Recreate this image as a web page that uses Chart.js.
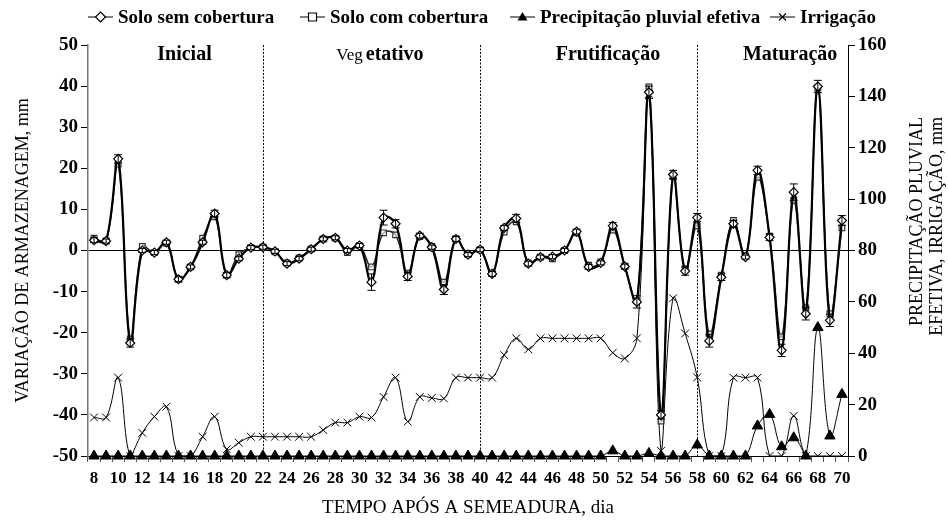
<!DOCTYPE html>
<html lang="pt">
<head>
<meta charset="UTF-8">
<title>Variação de armazenagem</title>
<script src="https://cdn.jsdelivr.net/npm/chart.js"></script>
<style>
  body { margin: 0; background: #fff; }
  #wrap { width: 948px; height: 527px; }
</style>
</head>
<body>
<div id="wrap"><canvas id="chart" width="948" height="527"></canvas></div>
<script>
// dias após a semeadura
var dias = [8, 9, 10, 11, 12, 13, 14, 15, 16, 17, 18, 19, 20, 21, 22, 23, 24, 25, 26, 27, 28,
  29, 30, 31, 32, 33, 34, 35, 36, 37, 38, 39, 40, 41, 42, 43, 44, 45, 46, 47, 48, 49, 50,
  51, 52, 53, 54, 55, 56, 57, 58, 59, 60, 61, 62, 63, 64, 65, 66, 67, 68, 69, 70];

// variação de armazenagem (mm) - eixo esquerdo
var semCobertura = [2.5, 2.3, 22.3, -22.5, 0, -0.5, 2, -7, -4, 2, 9, -6, -2, 0.7, 0.8,
  -0.2, -3.2, -2, 0.3, 2.8, 3.1, 0, 1.2, -7.7, 8, 6.5, -6.3, 3.6, 0.8, -9.5, 2.8, -1, 0.2,
  -5.7, 5.5, 7.8, -3.2, -1.6, -1.5, 0, 4.6, -4, -3, 6, -3.9, -12.5, 38.5, -40, 18.5, -5, 8,
  -22, -6.5, 6.5, -1.6, 19.5, 3.2, -24.3, 14.2, -15.4, 39.9, -17, 7.3];
var erroSem = [0.6, 0.5, 1, 1, 0.5, 0.5, 0.5, 0.6, 0.5, 0.5, 0.8, 0.6, 0.5, 0.5, 0.5,
  0.5, 0.5, 0.5, 0.5, 0.5, 0.5, 0.5, 0.5, 2, 1.8, 1, 1, 0.6, 0.5, 1.2, 0.6, 0.5, 0.5,
  0.6, 0.6, 1, 0.6, 0.5, 0.5, 0.5, 0.6, 0.6, 0.5, 0.8, 0.6, 1.5, 1.5, 1, 1, 1, 1,
  1.5, 0.8, 0.8, 0.5, 1, 0.8, 1.5, 2, 1.5, 1.5, 1.5, 1.2];
var comCobertura = [3, 2.3, 21, -21.5, 1, -0.5, 1.8, -7, -4, 3, 8.2, -6, -1, 0.7, 0.8,
  -0.3, -3, -1.8, 0.4, 2.8, 3, -0.5, 1.2, -4, 4.3, 3.8, -5.5, 3.4, 1, -7.7, 2.9, -1, 0.2,
  -5.5, 4.5, 7, -3, -1.6, -2, 0, 4.3, -3.6, -2.8, 5, -3.8, -12.2, 39.8, -41.5, 18, -4.5, 6,
  -20.3, -6, 7.3, -1.3, 17.8, 3.5, -21, 12.2, -14, 39.5, -15.4, 5.5];

// lâminas (mm) - eixo direito
var precipitacao = [0, 0, 0, 0, 0, 0, 0, 0, 0, 0, 0, 0, 0, 0, 0, 0, 0, 0, 0, 0, 0,
  0, 0, 0, 0, 0, 0, 0, 0, 0, 0, 0, 0, 0, 0, 0, 0, 0, 0, 0, 0, 0, 0,
  2, 0, 0, 1, 0, 0, 0, 4.3, 0, 0, 0, 0, 11.7, 16.2, 3.6, 7.1, 0, 50, 7.8, 24];
var irrigacao = [15, 15, 30.5, 0, 9, 15.3, 19.2, 0, 0, 7.5, 15.3, 2.6, 5.2, 7.5, 7.5,
  7.5, 7.5, 7.5, 7.5, 10.1, 13, 13, 15.3, 15, 23, 30.5, 13.4, 23, 22.6, 22.4, 30.5, 30.5, 30.5,
  30.5, 39.3, 45.8, 41.5, 45.8, 45.8, 45.8, 45.8, 45.8, 45.8, 40.2, 38, 45.8, 141, 2, 61.4, 47.7, 30.6,
  0, 0, 30.5, 30.5, 30.5, 0, 0, 15.6, 0, 0, 0, 0];

// fases da cultura
var limitesFases = [22, 40, 58];
var fases = ['Inicial', 'Vegetativo', 'Frutificação', 'Maturação'];
var centroFases = [15.5, 31.7, 50.6, 65.7];

var serif = "'Liberation Serif', 'Times New Roman', serif";

function marcador(ctx, tipo, x, y, r) {
  ctx.save();
  ctx.lineWidth = 1.2;
  ctx.strokeStyle = '#000';
  ctx.fillStyle = '#fff';
  ctx.beginPath();
  if (tipo === 'rectRot') {
    ctx.moveTo(x, y - r); ctx.lineTo(x + r, y); ctx.lineTo(x, y + r); ctx.lineTo(x - r, y); ctx.closePath();
    ctx.fill(); ctx.stroke();
  } else if (tipo === 'rect') {
    ctx.rect(x - r * 0.8, y - r * 0.8, r * 1.6, r * 1.6);
    ctx.fill(); ctx.stroke();
  } else if (tipo === 'triangle') {
    ctx.fillStyle = '#000';
    ctx.moveTo(x, y - r); ctx.lineTo(x + r, y + r * 0.7); ctx.lineTo(x - r, y + r * 0.7); ctx.closePath();
    ctx.fill();
  } else {
    ctx.moveTo(x - r * 0.7, y - r * 0.7); ctx.lineTo(x + r * 0.7, y + r * 0.7);
    ctx.moveTo(x + r * 0.7, y - r * 0.7); ctx.lineTo(x - r * 0.7, y + r * 0.7);
    ctx.stroke();
  }
  ctx.restore();
}

var extras = {
  id: 'extras',
  beforeDatasetsDraw: function(chart) {
    var ctx = chart.ctx, xs = chart.scales.x, a = chart.chartArea;
    ctx.save();
    ctx.strokeStyle = '#000';
    ctx.lineWidth = 1;
    ctx.setLineDash([2, 1.5]);
    limitesFases.forEach(function(d) {
      var px = Math.round(xs.getPixelForValue(dias.indexOf(d))) + 0.5;
      ctx.beginPath(); ctx.moveTo(px, a.top); ctx.lineTo(px, a.bottom); ctx.stroke();
    });
    ctx.restore();
  },
  afterDatasetsDraw: function(chart) {
    var ctx = chart.ctx, xs = chart.scales.x, ys = chart.scales.y;
    ctx.save();
    ctx.strokeStyle = '#000';
    ctx.lineWidth = 1;
    semCobertura.forEach(function(v, i) {
      var px = xs.getPixelForValue(i);
      var t = ys.getPixelForValue(v + erroSem[i]), b = ys.getPixelForValue(v - erroSem[i]);
      ctx.beginPath();
      ctx.moveTo(px, t); ctx.lineTo(px, b);
      ctx.moveTo(px - 4, t); ctx.lineTo(px + 4, t);
      ctx.moveTo(px - 4, b); ctx.lineTo(px + 4, b);
      ctx.stroke();
    });
    ctx.restore();
  },
  afterDraw: function(chart) {
    var ctx = chart.ctx, xs = chart.scales.x;
    ctx.save();
    ctx.fillStyle = '#000';
    ctx.textBaseline = 'middle';
    // nomes das fases
    ctx.textAlign = 'center';
    fases.forEach(function(f, i) {
      var px = xs.getPixelForValue(dias.indexOf(Math.floor(centroFases[i])) + centroFases[i] % 1);
      if (f === 'Vegetativo') {
        ctx.font = '17px ' + serif;
        var w1 = ctx.measureText('Veg').width;
        ctx.font = 'bold 20px ' + serif;
        var w2 = ctx.measureText('etativo').width;
        var x0 = px - (w1 + 3 + w2) / 2;
        ctx.textAlign = 'left';
        ctx.font = '17px ' + serif;
        ctx.fillText('Veg', x0, 56);
        ctx.font = 'bold 20px ' + serif;
        ctx.fillText('etativo', x0 + w1 + 3, 55);
        ctx.textAlign = 'center';
      } else {
        ctx.font = 'bold 20px ' + serif;
        ctx.fillText(f, px, 55);
      }
    });
    // título do eixo direito
    ctx.font = '18px ' + serif;
    ctx.textAlign = 'right';
    ctx.save();
    ctx.translate(917, 117);
    ctx.rotate(-Math.PI / 2);
    ctx.fillText('PRECIPITAÇÃO PLUVIAL', 0, 0);
    ctx.fillText('EFETIVA, IRRIGAÇÃO, mm', 0, 20);
    ctx.restore();
    // legenda
    var itens = chart.data.datasets;
    var inicio = [88, 300, 510, 770];
    ctx.font = 'bold 19px ' + serif;
    ctx.textAlign = 'left';
    itens.forEach(function(ds, i) {
      var x = inicio[i], y = 17;
      ctx.strokeStyle = '#000';
      ctx.lineWidth = 1;
      ctx.beginPath(); ctx.moveTo(x, y); ctx.lineTo(x + 25, y); ctx.stroke();
      marcador(ctx, ds.pointStyle, x + 12.5, y, 5);
      ctx.fillText(ds.label, x + 30, y + 1);
    });
    ctx.restore();
  }
};

var ctx = document.getElementById('chart').getContext('2d');
var chart = new Chart(ctx, {
  type: 'line',
  data: {
    labels: dias,
    datasets: [
      {
        label: 'Solo sem cobertura',
        data: semCobertura,
        yAxisID: 'y',
        borderColor: '#000',
        borderWidth: 2.2,
        pointStyle: 'rectRot',
        pointRadius: 4.5,
        pointBorderWidth: 1.2,
        pointBackgroundColor: '#fff',
        pointBorderColor: '#000',
        tension: 0.4
      },
      {
        label: 'Solo com cobertura',
        data: comCobertura,
        yAxisID: 'y',
        borderColor: '#222',
        borderWidth: 1.5,
        pointStyle: 'rect',
        pointRadius: 4,
        pointBorderWidth: 1.2,
        pointBackgroundColor: 'rgba(255,255,255,0.6)',
        pointBorderColor: '#333',
        tension: 0.4
      },
      {
        label: 'Precipitação pluvial efetiva',
        data: precipitacao,
        yAxisID: 'y1',
        borderColor: '#000',
        borderWidth: 1,
        pointStyle: 'triangle',
        pointRadius: 6,
        pointBackgroundColor: '#000',
        pointBorderColor: '#000',
        clip: false,
        tension: 0.4
      },
      {
        label: 'Irrigação',
        data: irrigacao,
        yAxisID: 'y1',
        borderColor: '#000',
        borderWidth: 1,
        pointStyle: 'crossRot',
        pointRadius: 5.5,
        pointBorderWidth: 1,
        pointBorderColor: '#000',
        tension: 0.4
      }
    ]
  },
  options: {
    responsive: false,
    animation: false,
    layout: { padding: { top: 45 } },
    plugins: {
      legend: { display: false },
      tooltip: { enabled: false }
    },
    scales: {
      x: {
        type: 'category',
        offset: true,
        afterFit: function(s) { s.height = 71; },
        grid: { offset: true, drawOnChartArea: false, color: '#555', tickLength: 6 },
        border: { color: '#000', width: 1 },
        ticks: {
          autoSkip: false,
          maxRotation: 0,
          color: '#000',
          padding: 6,
          font: { family: serif, size: 17, weight: 'bold' },
          callback: function(v, i) { return dias[i] % 2 === 0 ? String(dias[i]) : ''; }
        },
        title: {
          display: true,
          text: 'TEMPO APÓS A SEMEADURA, dia',
          color: '#000',
          font: { family: serif, size: 19 },
          padding: { top: 0, bottom: 8 }
        }
      },
      y: {
        position: 'left',
        min: -50,
        max: 50,
        afterFit: function(s) { s.width = 88; },
        grid: {
          color: function(c) { return c.tick && c.tick.value === 0 ? '#000' : 'rgba(0,0,0,0)'; },
          tickColor: '#000',
          tickLength: 7
        },
        border: { color: '#777', width: 1.5 },
        ticks: {
          stepSize: 10,
          color: '#000',
          padding: 3,
          font: { family: serif, size: 19, weight: 'bold' }
        },
        title: {
          display: true,
          text: 'VARIAÇÃO DE ARMAZENAGEM, mm',
          color: '#000',
          font: { family: serif, size: 18 },
          padding: { top: 12, bottom: 0 }
        }
      },
      y1: {
        position: 'right',
        min: 0,
        max: 160,
        afterFit: function(s) { s.width = 100; },
        grid: { drawOnChartArea: false, tickColor: '#000', tickLength: 7 },
        border: { color: '#000', width: 1 },
        ticks: {
          stepSize: 20,
          color: '#000',
          padding: 3,
          font: { family: serif, size: 19, weight: 'bold' }
        }
      }
    }
  },
  plugins: [extras]
});
</script>
</body>
</html>
